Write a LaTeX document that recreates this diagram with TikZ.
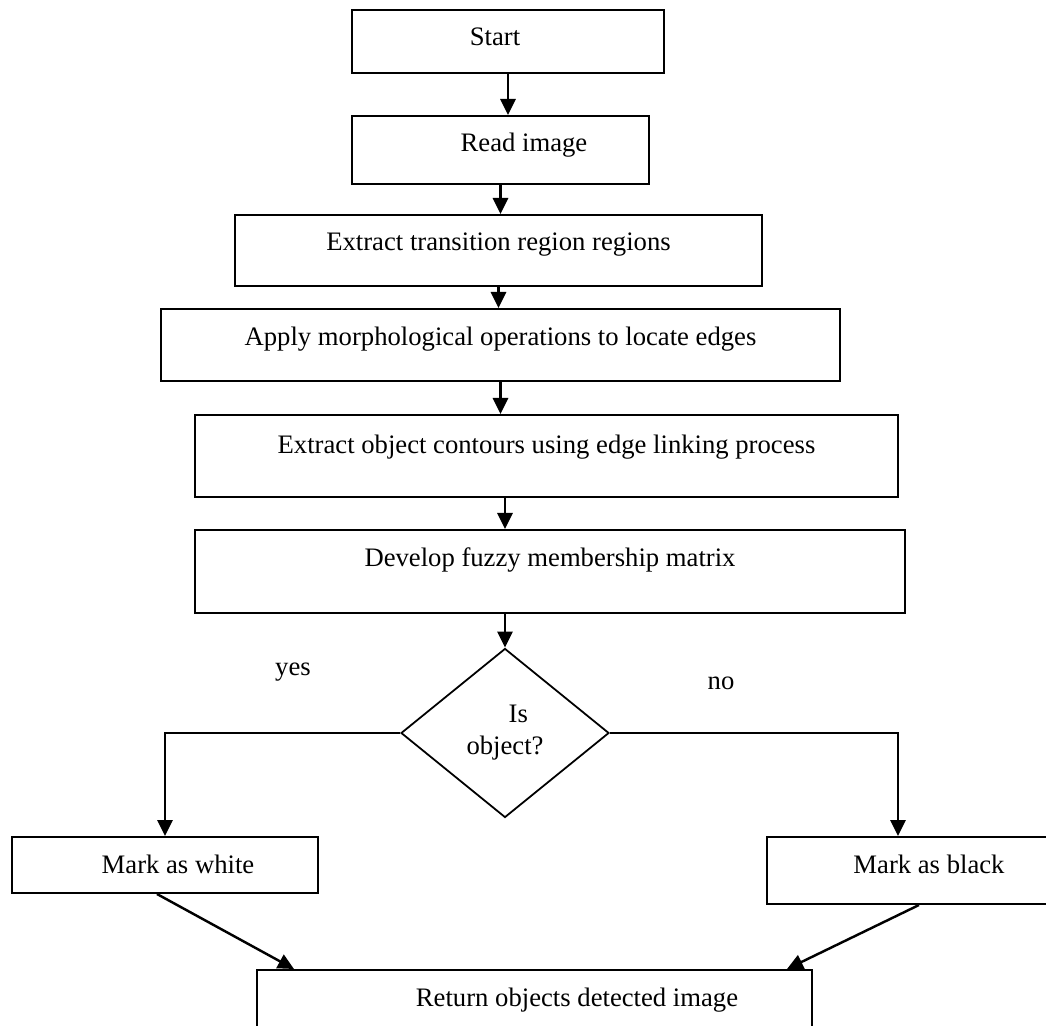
\documentclass[tikz,border=0pt]{standalone}
\usepackage{fontspec}
\setmainfont{Liberation Serif}
\usetikzlibrary{positioning,shapes.geometric,arrows.meta}

\begin{document}
\begin{tikzpicture}[x=0.45pt, y=-0.45pt]

\tikzstyle{flowbox}=[draw, line width=0.9pt, rectangle, inner sep=2pt, text height=9pt, font=\fontsize{12}{14.4}\selectfont]
\tikzstyle{decision}=[draw, line width=0.8pt, diamond, aspect=1.23, inner sep=0pt, minimum width=93.6pt, minimum height=76.05pt, align=center, font=\fontsize{12}{14.4}\selectfont]
\tikzstyle{flowline}=[line width=1.1pt, -{Triangle[length=7.2pt, width=6.8pt]}]
\tikzstyle{answer}=[font=\fontsize{12}{14.4}\selectfont]

\newcommand{\flowbox}[3]{node (#1) [flowbox, #2] {#3}}

\useasboundingbox (0,0) rectangle (1046,1026);
\clip (0,0) rectangle (1046,1026);

\path (508,41.5) \flowbox{start}{minimum width=140.4pt, minimum height=28.35pt, text depth=4.95pt}{Start\hspace*{11.7pt}};
\path (500.5,150) \flowbox{read}{minimum width=133.65pt, minimum height=30.6pt, text depth=7.2pt}{\hspace*{21.15pt}Read image};
\path (498.5,250.5) \flowbox{trans}{minimum width=237.15pt, minimum height=31.95pt, text depth=8.55pt}{Extract transition region regions};
\path (500.5,345) \flowbox{morph}{minimum width=305.55pt, minimum height=32.4pt, text depth=8.1pt}{Apply morphological operations to locate edges};
\path (546.5,456) \flowbox{contour}{minimum width=316.35pt, minimum height=36.9pt, text depth=11.7pt}{Extract object contours using edge linking process};
\path (550,571.5) \flowbox{fuzzy}{minimum width=319.5pt, minimum height=37.35pt, text depth=13.95pt}{Develop fuzzy membership matrix};

\node (isobj) [decision] at (505,733) {\hspace*{12pt}Is\\object?};
\node (yes) [answer] at (293,672) {yes};
\node (no) [answer] at (721,683) {no};

\path (165,865) \flowbox{white}{minimum width=137.7pt, minimum height=25.2pt, text depth=1.8pt}{\hspace*{11.7pt}Mark as white};
\path (929,870.5) \flowbox{black}{minimum width=145.8pt, minimum height=30.15pt, text depth=6.75pt}{Mark as black};
\path (534.5,1010) \flowbox{ret}{minimum width=249.75pt, minimum height=36pt, text depth=12.6pt}{\hspace*{38.25pt}Return objects detected image};

\draw[flowline] (start.south) -- (start.south |- read.north);
\draw[flowline] (read.south) -- (read.south |- trans.north);
\draw[flowline] (trans.south) -- (trans.south |- morph.north);
\draw[flowline] (morph.south) -- (morph.south |- contour.north);
\draw[flowline] (isobj.north |- contour.south) -- (isobj.north |- fuzzy.north);
\draw[flowline] (isobj.north |- fuzzy.south) -- (isobj.north);
\draw[flowline] (isobj.west) -| (white.north);
\draw[flowline] (isobj.east) -| ([xshift=-13.95pt]black.north);
\draw[flowline] ([xshift=-3.6pt]white.south) -- ([xshift=17.1pt]ret.north west);
\draw[flowline] ([xshift=-4.5pt]black.south) -- ([xshift=-11.7pt]ret.north east);

\end{tikzpicture}
\end{document}
